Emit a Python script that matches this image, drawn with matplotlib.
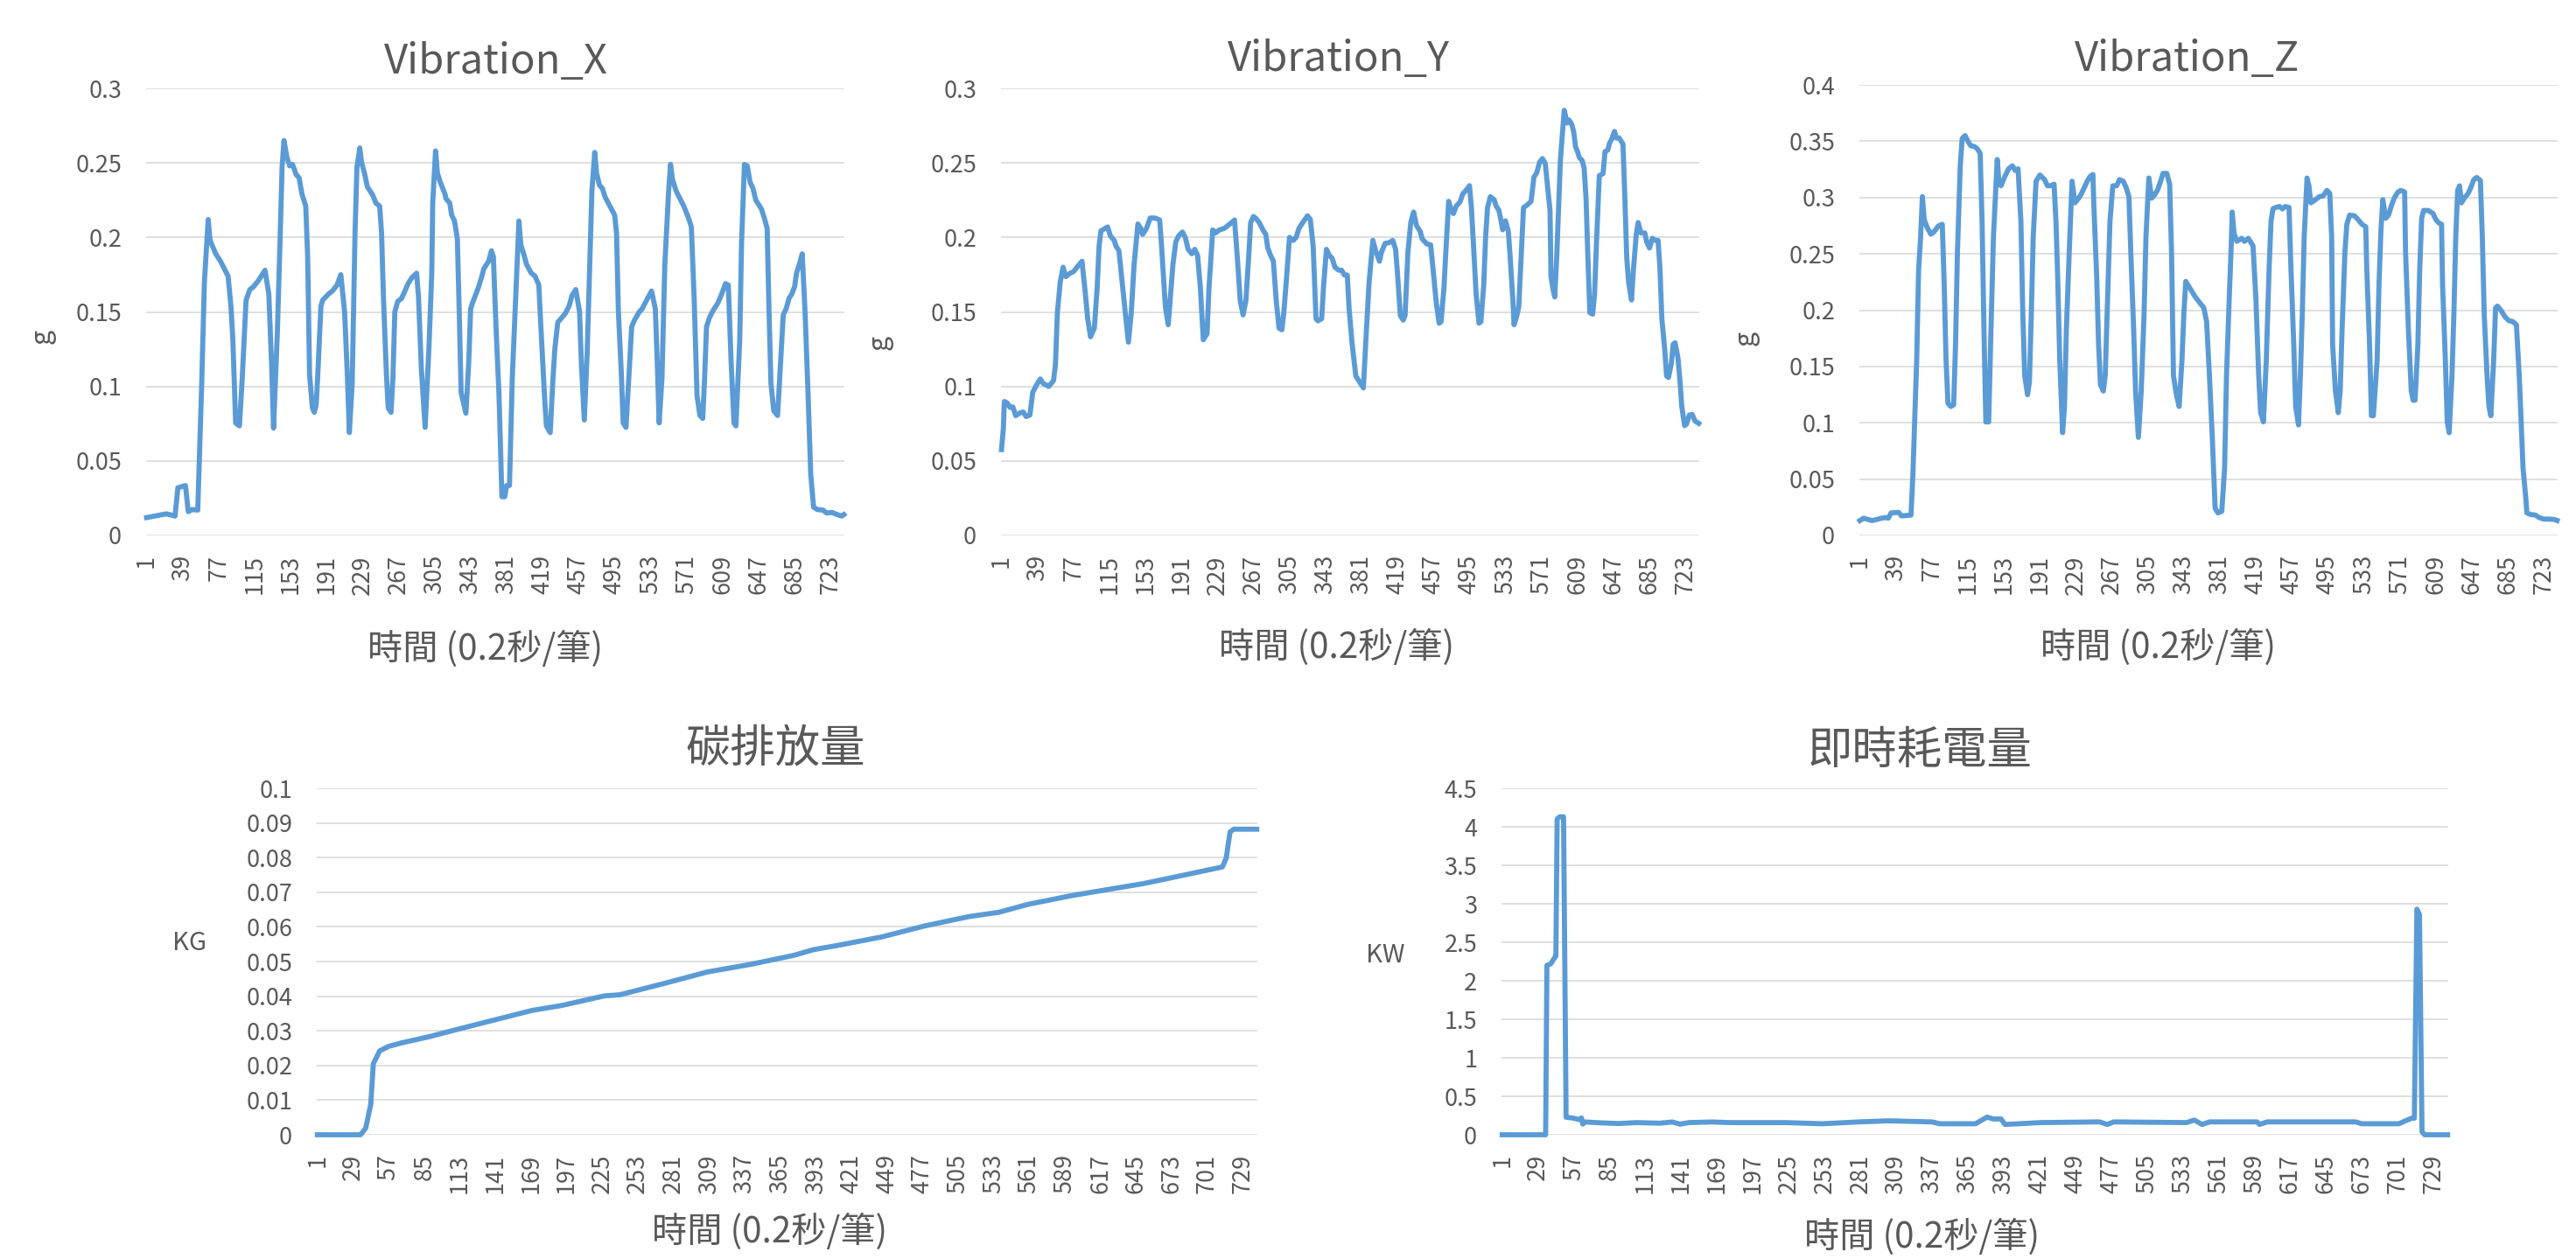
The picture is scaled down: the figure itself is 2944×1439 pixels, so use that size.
import matplotlib
matplotlib.use("Agg")
import matplotlib.pyplot as plt

W, H = 2944, 1439
LINE_COLOR = "#5B9BD5"
GRID_COLOR = "#D9D9D9"
TEXT_COLOR = "#595959"

plt.rcParams["font.family"] = ["Noto Sans CJK TC", "DejaVu Sans"]

# number of records per chart
N_TOP = 737
N_BOTTOM = 740

# Vibration_X (record no., g)
vib_x_idx = [1, 22, 31, 34, 42, 45, 49, 55, 59, 62, 66, 68, 74, 79, 83, 87, 90, 92, 95, 99,
             102, 106, 110, 114, 119, 123, 126, 130, 133, 135, 139, 142, 144, 146, 149, 152, 155, 159, 162, 165,
             169, 171, 173, 176, 178, 180, 182, 185, 187, 193, 197, 202, 206, 210, 213, 215, 218, 221, 223, 226,
             228, 231, 234, 237, 240, 243, 247, 249, 251, 254, 256, 259, 261, 263, 266, 270, 273, 277, 281, 286,
             288, 291, 295, 299, 302, 303, 306, 308, 311, 316, 317, 321, 323, 326, 329, 331, 333, 338, 341, 343,
             345, 351, 354, 357, 362, 365, 367, 370, 373, 376, 379, 381, 384, 387, 391, 394, 396, 399, 402, 407,
             411, 415, 417, 421, 423, 427, 430, 432, 435, 439, 443, 447, 450, 454, 458, 460, 463, 466, 469, 471,
             474, 476, 479, 482, 485, 490, 495, 497, 499, 502, 504, 507, 510, 513, 516, 521, 524, 528, 534, 538,
             540, 542, 545, 548, 552, 554, 556, 560, 564, 568, 573, 576, 579, 582, 585, 588, 590, 592, 595, 599,
             604, 608, 612, 615, 618, 621, 623, 627, 629, 632, 635, 638, 641, 644, 647, 650, 653, 656, 658, 660,
             663, 667, 670, 673, 676, 679, 682, 685, 687, 690, 693, 696, 699, 702, 705, 709, 715, 719, 724, 730,
             735, 737]
vib_x_val = [0.012, 0.0145, 0.013, 0.032, 0.0335, 0.016, 0.0174, 0.017, 0.098, 0.170, 0.212, 0.198, 0.189, 0.184, 0.179, 0.174, 0.154, 0.132, 0.0755, 0.0735,
             0.106, 0.158, 0.165, 0.167, 0.171, 0.175, 0.178, 0.162, 0.114, 0.072, 0.136, 0.201, 0.247, 0.265, 0.254, 0.248, 0.249, 0.242, 0.240, 0.229,
             0.221, 0.187, 0.108, 0.0856, 0.0826, 0.0876, 0.112, 0.154, 0.158, 0.162, 0.164, 0.168, 0.175, 0.150, 0.106, 0.069, 0.102, 0.203, 0.247, 0.260,
             0.250, 0.243, 0.234, 0.231, 0.228, 0.223, 0.221, 0.203, 0.160, 0.110, 0.0856, 0.0826, 0.106, 0.150, 0.157, 0.159, 0.163, 0.169, 0.173, 0.176,
             0.160, 0.112, 0.0725, 0.126, 0.176, 0.223, 0.258, 0.243, 0.237, 0.229, 0.226, 0.223, 0.215, 0.211, 0.199, 0.150, 0.0957, 0.082, 0.116, 0.152,
             0.156, 0.166, 0.172, 0.179, 0.184, 0.191, 0.187, 0.137, 0.0937, 0.026, 0.026, 0.0335, 0.0335, 0.106, 0.166, 0.211, 0.195, 0.189, 0.182, 0.176,
             0.174, 0.168, 0.142, 0.0937, 0.0735, 0.069, 0.106, 0.126, 0.143, 0.146, 0.149, 0.154, 0.161, 0.165, 0.150, 0.114, 0.0775, 0.122, 0.187, 0.231,
             0.257, 0.243, 0.235, 0.233, 0.227, 0.221, 0.215, 0.203, 0.150, 0.110, 0.0755, 0.0725, 0.106, 0.140, 0.1445, 0.150, 0.152, 0.157, 0.164, 0.152,
             0.116, 0.0755, 0.106, 0.182, 0.231, 0.249, 0.239, 0.231, 0.226, 0.221, 0.213, 0.207, 0.158, 0.0937, 0.0805, 0.0785, 0.106, 0.140, 0.146, 0.151,
             0.156, 0.162, 0.169, 0.168, 0.116, 0.0755, 0.0735, 0.130, 0.197, 0.249, 0.248, 0.237, 0.233, 0.225, 0.222, 0.219, 0.213, 0.206, 0.150, 0.102,
             0.0836, 0.0805, 0.114, 0.148, 0.152, 0.159, 0.162, 0.167, 0.176, 0.182, 0.189, 0.150, 0.098, 0.041, 0.019, 0.0174, 0.017, 0.015, 0.0155, 0.014,
             0.013, 0.014]

# Vibration_Y (record no., g)
vib_y_idx = [1, 3, 4, 7, 10, 13, 16, 21, 24, 27, 31, 34, 38, 42, 45, 51, 56, 58, 60, 63,
             66, 69, 73, 77, 82, 86, 89, 92, 95, 99, 102, 104, 106, 109, 113, 116, 120, 122, 125, 129,
             132, 135, 138, 141, 145, 148, 150, 154, 158, 163, 168, 170, 174, 177, 179, 182, 185, 188, 192, 195,
             198, 202, 205, 208, 211, 214, 218, 220, 224, 227, 231, 236, 240, 244, 247, 250, 253, 256, 259, 262,
             264, 267, 270, 273, 277, 280, 282, 285, 288, 291, 294, 297, 299, 302, 305, 309, 312, 315, 318, 321,
             324, 327, 330, 333, 335, 339, 341, 344, 347, 350, 353, 357, 360, 363, 366, 368, 371, 375, 379, 383,
             386, 389, 393, 396, 400, 402, 406, 410, 414, 417, 419, 422, 425, 427, 430, 433, 436, 439, 443, 445,
             450, 454, 457, 460, 463, 465, 468, 470, 473, 475, 478, 481, 485, 488, 491, 495, 497, 500, 502, 505,
             507, 510, 512, 514, 517, 521, 523, 526, 528, 530, 533, 536, 538, 541, 542, 545, 547, 550, 552, 556,
             560, 563, 566, 569, 572, 575, 578, 580, 581, 583, 585, 587, 591, 594, 595, 598, 600, 603, 605, 607,
             609, 611, 614, 616, 618, 620, 622, 625, 627, 629, 632, 636, 638, 641, 643, 645, 648, 650, 653, 657,
             659, 661, 663, 666, 668, 671, 673, 676, 680, 682, 685, 688, 691, 694, 696, 698, 701, 703, 705, 708,
             710, 712, 715, 717, 719, 722, 724, 727, 730, 733, 737]
vib_y_val = [0.0576, 0.0717, 0.0899, 0.0889, 0.0859, 0.0863, 0.0804, 0.0824, 0.0828, 0.0798, 0.0808, 0.096, 0.101, 0.105, 0.102, 0.100, 0.104, 0.115, 0.1495, 0.170,
             0.180, 0.1737, 0.1758, 0.177, 0.181, 0.184, 0.1657, 0.1455, 0.1333, 0.139, 0.166, 0.194, 0.2044, 0.2055, 0.207, 0.201, 0.198, 0.194, 0.191, 0.166,
             0.1475, 0.1297, 0.1495, 0.182, 0.209, 0.206, 0.202, 0.206, 0.213, 0.213, 0.2117, 0.194, 0.1535, 0.1414, 0.1576, 0.182, 0.197, 0.201, 0.2036, 0.200,
             0.192, 0.189, 0.192, 0.188, 0.1657, 0.1313, 0.1354, 0.1657, 0.205, 0.203, 0.205, 0.206, 0.208, 0.210, 0.2117, 0.186, 0.1576, 0.148, 0.1576, 0.188,
             0.210, 0.214, 0.2125, 0.210, 0.205, 0.202, 0.193, 0.188, 0.184, 0.1576, 0.139, 0.138, 0.1495, 0.1737, 0.200, 0.198, 0.200, 0.206, 0.209, 0.2117,
             0.2145, 0.212, 0.194, 0.1455, 0.144, 0.1455, 0.1677, 0.192, 0.188, 0.186, 0.180, 0.178, 0.178, 0.1747, 0.1747, 0.1515, 0.1293, 0.107, 0.103, 0.099,
             0.1354, 0.1697, 0.198, 0.191, 0.184, 0.190, 0.196, 0.1964, 0.198, 0.192, 0.1758, 0.1475, 0.1445, 0.1475, 0.190, 0.210, 0.217, 0.208, 0.204, 0.199,
             0.1956, 0.195, 0.1758, 0.1556, 0.1424, 0.1434, 0.1657, 0.190, 0.2242, 0.220, 0.216, 0.221, 0.2238, 0.2293, 0.2313, 0.2347, 0.220, 0.1859, 0.1616, 0.1424,
             0.1434, 0.1677, 0.200, 0.220, 0.2273, 0.2253, 0.2212, 0.2182, 0.2121, 0.2051, 0.2111, 0.204, 0.1859, 0.1556, 0.1414, 0.1475, 0.1535, 0.194, 0.220, 0.2218,
             0.2242, 0.2404, 0.2434, 0.2505, 0.2529, 0.2495, 0.2303, 0.2182, 0.1737, 0.1657, 0.160, 0.1859, 0.2525, 0.2768, 0.2853, 0.2768, 0.2788, 0.2758, 0.2707, 0.2606,
             0.2576, 0.2535, 0.2515, 0.2465, 0.2263, 0.1859, 0.1495, 0.1485, 0.1616, 0.196, 0.2414, 0.2428, 0.2576, 0.2586, 0.2636, 0.2657, 0.2711, 0.2667, 0.2667, 0.2626,
             0.2263, 0.1859, 0.1697, 0.158, 0.178, 0.202, 0.210, 0.203, 0.203, 0.197, 0.1929, 0.1994, 0.198, 0.198, 0.1798, 0.1455, 0.1253, 0.1071, 0.106, 0.1152,
             0.1283, 0.1293, 0.1192, 0.105, 0.0869, 0.0737, 0.0747, 0.0808, 0.0812, 0.0768, 0.0752]

# Vibration_Z (record no., g)
vib_z_idx = [1, 5, 14, 24, 28, 31, 34, 42, 45, 55, 57, 61, 63, 65, 67, 69, 72, 76, 79, 84,
             88, 90, 92, 94, 97, 100, 102, 104, 107, 109, 112, 115, 118, 122, 125, 128, 130, 132, 134, 137,
             139, 142, 146, 148, 150, 154, 158, 162, 165, 168, 171, 173, 175, 178, 180, 182, 184, 187, 191, 196,
             199, 202, 206, 208, 210, 212, 215, 217, 219, 222, 225, 228, 232, 235, 238, 241, 244, 247, 248, 251,
             253, 255, 258, 260, 262, 265, 268, 272, 275, 279, 282, 285, 287, 290, 292, 295, 298, 301, 303, 306,
             309, 312, 315, 318, 321, 325, 328, 330, 332, 335, 338, 341, 343, 345, 348, 351, 355, 360, 364, 367,
             370, 373, 376, 379, 383, 386, 388, 391, 393, 394, 396, 399, 404, 407, 411, 416, 419, 422, 424, 427,
             430, 433, 435, 437, 440, 444, 447, 450, 454, 456, 459, 461, 464, 466, 468, 470, 473, 475, 477, 481,
             486, 490, 494, 497, 499, 500, 503, 506, 508, 510, 513, 515, 518, 523, 527, 531, 535, 536, 539, 541,
             543, 547, 549, 551, 553, 556, 559, 562, 565, 569, 572, 576, 577, 580, 583, 585, 587, 590, 592, 594,
             596, 601, 606, 609, 612, 615, 616, 619, 621, 623, 626, 628, 630, 632, 634, 636, 639, 643, 646, 649,
             652, 656, 658, 660, 663, 665, 667, 670, 672, 674, 678, 682, 686, 690, 694, 697, 699, 701, 704, 705,
             709, 714, 718, 723, 729, 734, 737]
vib_z_val = [0.0132, 0.0153, 0.0132, 0.0153, 0.0159, 0.0153, 0.020, 0.0205, 0.0173, 0.0181, 0.0542, 0.1556, 0.235, 0.2625, 0.3008, 0.2803, 0.2734, 0.2674, 0.2693, 0.2748,
             0.2762, 0.2241, 0.1556, 0.1173, 0.1145, 0.1159, 0.1693, 0.2515, 0.3282, 0.3523, 0.355, 0.3501, 0.346, 0.3452, 0.3433, 0.3392, 0.2789, 0.183, 0.1008, 0.1008,
             0.1693, 0.2652, 0.3337, 0.3118, 0.3104, 0.3186, 0.3255, 0.3282, 0.3241, 0.3255, 0.2789, 0.1967, 0.1419, 0.1249, 0.1364, 0.1967, 0.2652, 0.3145, 0.32, 0.3159,
             0.3104, 0.3104, 0.3118, 0.2789, 0.2241, 0.1556, 0.0912, 0.1145, 0.183, 0.2515, 0.3145, 0.2953, 0.2994, 0.3036, 0.309, 0.3145, 0.3186, 0.3205, 0.2926, 0.2296,
             0.1693, 0.1337, 0.1282, 0.1419, 0.1967, 0.2789, 0.3104, 0.3104, 0.3159, 0.3145, 0.309, 0.3008, 0.2515, 0.183, 0.1282, 0.0871, 0.1282, 0.1967, 0.2652, 0.3173,
             0.2994, 0.3022, 0.3063, 0.3132, 0.3214, 0.3214, 0.3118, 0.2515, 0.1419, 0.1255, 0.1145, 0.1556, 0.1967, 0.2255, 0.2214, 0.2173, 0.2118, 0.2063, 0.2022, 0.19,
             0.1419, 0.0871, 0.0241, 0.020, 0.0214, 0.0597, 0.1419, 0.2132, 0.257, 0.2871, 0.2679, 0.2611, 0.2638, 0.2611, 0.2638, 0.257, 0.2104, 0.1419, 0.109, 0.1008,
             0.1556, 0.2378, 0.2789, 0.2899, 0.2912, 0.292, 0.2899, 0.292, 0.2912, 0.2378, 0.1693, 0.1145, 0.0981, 0.1419, 0.1967, 0.2652, 0.3173, 0.3104, 0.2953, 0.2975,
             0.3008, 0.3014, 0.3063, 0.3036, 0.2652, 0.1693, 0.1282, 0.109, 0.1282, 0.183, 0.2515, 0.2762, 0.2844, 0.2838, 0.2803, 0.2762, 0.274, 0.2378, 0.1693, 0.1063,
             0.1063, 0.1556, 0.2241, 0.2707, 0.2981, 0.2816, 0.2844, 0.2926, 0.2994, 0.3049, 0.3063, 0.3049, 0.2515, 0.183, 0.1282, 0.12, 0.12, 0.1693, 0.2378, 0.2816,
             0.2885, 0.2885, 0.2858, 0.2803, 0.2775, 0.2762, 0.2241, 0.1556, 0.1008, 0.0912, 0.1419, 0.1967, 0.2652, 0.3063, 0.3104, 0.2953, 0.2994, 0.3036, 0.309, 0.3159,
             0.3178, 0.3151, 0.2652, 0.1967, 0.1419, 0.1145, 0.1063, 0.1556, 0.2022, 0.2036, 0.1995, 0.194, 0.1907, 0.1899, 0.1871, 0.1419, 0.1008, 0.0597, 0.0323, 0.020,
             0.0186, 0.0181, 0.0159, 0.0145, 0.0145, 0.0142, 0.0132]

# 碳排放量 (record no., KG)
carbon_idx = [1, 35, 39, 43, 45, 50, 57, 67, 90, 113, 141, 170, 193, 227, 239, 273, 308, 342, 376, 391,
              411, 445, 479, 514, 537, 560, 594, 628, 651, 686, 713, 716, 719, 722, 740]
carbon_val = [0, 0, 0.0019, 0.0088, 0.0205, 0.0242, 0.0255, 0.0265, 0.0284, 0.0306, 0.0332, 0.0359, 0.0373, 0.0401, 0.0404, 0.0436, 0.047, 0.0492, 0.0518, 0.0534,
              0.0547, 0.0571, 0.0603, 0.063, 0.0642, 0.0665, 0.069, 0.0711, 0.0725, 0.0752, 0.0773, 0.0799, 0.0874, 0.0882, 0.0882]

# 即時耗電量 (record no., KW)
power_idx = [1, 35, 36, 39, 42, 43, 44, 46, 49, 51, 56, 61, 63, 64, 66, 79, 92, 106, 124, 134,
             140, 147, 165, 179, 188, 223, 251, 280, 303, 337, 343, 371, 380, 385, 391, 394, 422, 468, 474, 479,
             536, 542, 548, 554, 591, 593, 599, 668, 673, 702, 707, 712, 714, 716, 718, 720, 722, 740]
power_val = [0, 0, 2.2, 2.22, 2.30, 2.32, 4.10, 4.13, 4.13, 0.227, 0.218, 0.198, 0.218, 0.138, 0.166, 0.154, 0.146, 0.158, 0.15, 0.166,
             0.138, 0.158, 0.166, 0.158, 0.158, 0.158, 0.143, 0.167, 0.181, 0.167, 0.143, 0.143, 0.229, 0.205, 0.205, 0.134, 0.158, 0.167, 0.134, 0.167,
             0.158, 0.191, 0.134, 0.167, 0.167, 0.134, 0.167, 0.167, 0.143, 0.143, 0.181, 0.215, 0.215, 2.93, 2.86, 0.04, 0, 0]

top_xticks = list(range(1, 724, 38))
bottom_xticks = list(range(1, 730, 28))

vib_yticks = [0, 0.05, 0.1, 0.15, 0.2, 0.25, 0.3]
vib_ylabels = ["0", "0.05", "0.1", "0.15", "0.2", "0.25", "0.3"]
vib_z_yticks = [0, 0.05, 0.1, 0.15, 0.2, 0.25, 0.3, 0.35, 0.4]
vib_z_ylabels = ["0", "0.05", "0.1", "0.15", "0.2", "0.25", "0.3", "0.35", "0.4"]
carbon_yticks = [0, 0.01, 0.02, 0.03, 0.04, 0.05, 0.06, 0.07, 0.08, 0.09, 0.1]
carbon_ylabels = ["0", "0.01", "0.02", "0.03", "0.04", "0.05", "0.06", "0.07", "0.08", "0.09", "0.1"]
power_yticks = [0, 0.5, 1, 1.5, 2, 2.5, 3, 3.5, 4, 4.5]
power_ylabels = ["0", "0.5", "1", "1.5", "2", "2.5", "3", "3.5", "4", "4.5"]

XLABEL = "時間 (0.2秒/筆)"


def px_rect(left, right, top, bottom):
    return [left / W, 1 - bottom / H, (right - left) / W, (bottom - top) / H]


def put_text(fig, x, y, s, size, rotation=0):
    fig.text(x / W, 1 - y / H, s, ha="center", va="center", fontsize=size,
             color=TEXT_COLOR, rotation=rotation)


def draw_panel(fig, rect, idx, val, n, xticks, yticks, ylabels):
    ax = fig.add_axes(rect)
    ax.plot(idx, val, color=LINE_COLOR, lw=4.2, solid_joinstyle="round", clip_on=False)
    ax.set_xlim(0.5, n + 0.5)
    ax.set_ylim(yticks[0], yticks[-1])
    ax.set_xticks(xticks)
    ax.set_xticklabels([str(t) for t in xticks], rotation=90)
    ax.set_yticks(yticks)
    ax.set_yticklabels(ylabels)
    ax.grid(axis="y", color=GRID_COLOR, lw=1.2)
    ax.set_axisbelow(True)
    for spine in ax.spines.values():
        spine.set_visible(False)
    ax.tick_params(axis="both", length=0, labelsize=19.5, labelcolor=TEXT_COLOR)
    ax.tick_params(axis="y", pad=20)
    ax.tick_params(axis="x", pad=16)
    return ax


fig = plt.figure(figsize=(W / 100, H / 100), dpi=100)

draw_panel(fig, px_rect(167, 965, 101, 612), vib_x_idx, vib_x_val, N_TOP, top_xticks, vib_yticks, vib_ylabels)
draw_panel(fig, px_rect(1144, 1942, 101, 612), vib_y_idx, vib_y_val, N_TOP, top_xticks, vib_yticks, vib_ylabels)
draw_panel(fig, px_rect(2125, 2923, 97, 612), vib_z_idx, vib_z_val, N_TOP, top_xticks, vib_z_yticks, vib_z_ylabels)
draw_panel(fig, px_rect(362, 1437, 901, 1297), carbon_idx, carbon_val, N_BOTTOM, bottom_xticks, carbon_yticks, carbon_ylabels)
draw_panel(fig, px_rect(1716, 2798, 901, 1297), power_idx, power_val, N_BOTTOM, bottom_xticks, power_yticks, power_ylabels)

# titles
put_text(fig, 567, 71, "Vibration_X", 34)
put_text(fig, 1530, 68, "Vibration_Y", 34)
put_text(fig, 2500, 68, "Vibration_Z", 34)
put_text(fig, 886, 856, "碳排放量", 37)
put_text(fig, 2194, 858, "即時耗電量", 37)

# axis titles
put_text(fig, 555, 742, XLABEL, 29)
put_text(fig, 1528, 740, XLABEL, 29)
put_text(fig, 2467, 740, XLABEL, 29)
put_text(fig, 880, 1408, XLABEL, 29)
put_text(fig, 2197, 1414, XLABEL, 29)

put_text(fig, 48, 384, "g", 22, rotation=90)
put_text(fig, 1005, 391, "g", 22, rotation=90)
put_text(fig, 1995, 386, "g", 22, rotation=90)
put_text(fig, 217, 1078, "KG", 21)
put_text(fig, 1583, 1092, "KW", 21)

fig.savefig("out.png", dpi=100, facecolor="white")
plt.close(fig)
